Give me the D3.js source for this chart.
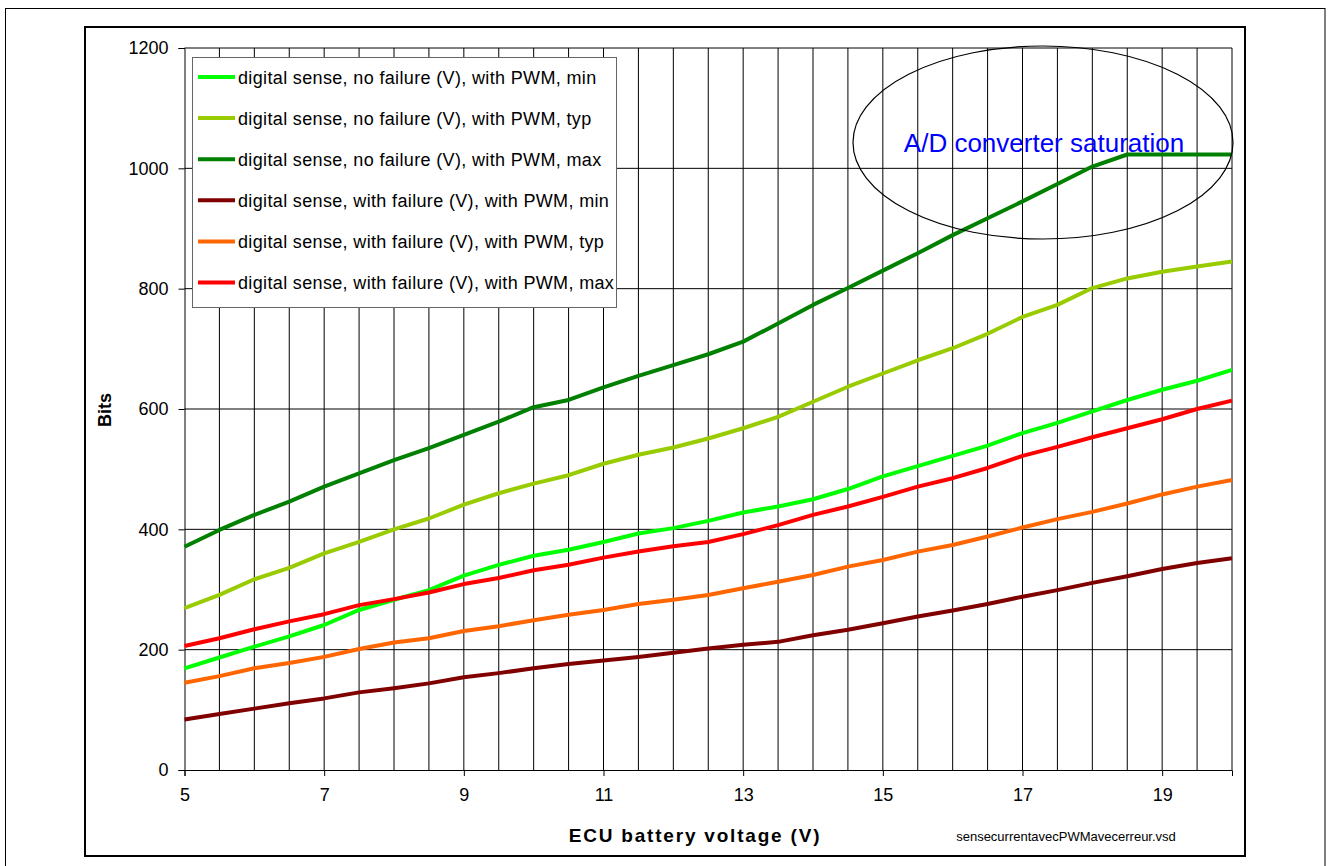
<!DOCTYPE html>
<html>
<head>
<meta charset="utf-8">
<script src="https://cdn.jsdelivr.net/npm/d3@7"></script>
<style>
  body { margin: 0; background: #fff; }
  svg { display: block; font-family: "Liberation Sans", Arial, sans-serif; }
</style>
</head>
<body>
<script>
// ECU battery voltage (V), one reading every 0.5 V
const volts = [5, 5.5, 6, 6.5, 7, 7.5, 8, 8.5, 9, 9.5, 10, 10.5, 11, 11.5, 12, 12.5,
               13, 13.5, 14, 14.5, 15, 15.5, 16, 16.5, 17, 17.5, 18, 18.5, 19, 19.5, 20];

// digital sense in bits
const noFailMin = [169, 187, 205, 222, 241, 266, 283, 299, 323, 341, 356, 366, 379, 393, 402, 414,
                   428, 438, 450, 467, 488, 505, 522, 539, 560, 577, 596, 615, 632, 647, 665];
const noFailTyp = [269, 291, 317, 336, 360, 379, 400, 418, 441, 460, 476, 490, 509, 524, 536, 551,
                   568, 587, 612, 637, 659, 681, 701, 725, 753, 773, 801, 817, 828, 837, 845];
const noFailMax = [371, 399, 424, 446, 471, 493, 515, 535, 557, 579, 603, 615, 636, 655, 673, 691,
                   712, 742, 773, 801, 830, 859, 889, 917, 945, 974, 1003, 1023, 1023, 1023, 1023];
const failMin   = [84, 93, 102, 111, 119, 129, 136, 144, 154, 161, 169, 176, 182, 188, 195, 202,
                   208, 213, 224, 233, 244, 255, 265, 276, 288, 299, 311, 322, 334, 344, 352];
const failTyp   = [145, 156, 169, 178, 188, 201, 212, 219, 231, 239, 249, 258, 266, 276, 283, 291,
                   302, 313, 324, 338, 349, 363, 374, 388, 403, 417, 429, 443, 458, 471, 482];
const failMax   = [206, 219, 234, 247, 259, 274, 284, 295, 309, 319, 332, 341, 353, 363, 372, 379,
                   392, 407, 424, 438, 454, 471, 485, 502, 522, 537, 553, 568, 583, 600, 614];

const seriesNames = [
    "digital sense, no failure (V), with PWM, min",
    "digital sense, no failure (V), with PWM, typ",
    "digital sense, no failure (V), with PWM, max",
    "digital sense, with failure (V), with PWM, min",
    "digital sense, with failure (V), with PWM, typ",
    "digital sense, with failure (V), with PWM, max"
];
const seriesColors = ["#00ff00", "#99cc00", "#008000", "#800000", "#ff6600", "#ff0000"];
const seriesValues = [noFailMin, noFailTyp, noFailMax, failMin, failTyp, failMax];

const xTicks = [5, 7, 9, 11, 13, 15, 17, 19];
const yTicks = [0, 200, 400, 600, 800, 1000, 1200];

const width = 1329;
const height = 866;

let svg = d3.select("body").append("svg")
    .attr("width", width)
    .attr("height", height);

// outer page frame + chart frame
svg.append("rect")
    .attr("x", 5.5).attr("y", 8.5)
    .attr("width", 1319.5).attr("height", 880)
    .attr("fill", "none").attr("stroke", "#000");
svg.append("rect")
    .attr("x", 85).attr("y", 27)
    .attr("width", 1160).attr("height", 829)
    .attr("fill", "none").attr("stroke", "#000").attr("stroke-width", 2);

let xScale = d3.scaleLinear().domain([5, 20]).range([184.5, 1232]);
let yScale = d3.scaleLinear().domain([0, 1200]).range([770, 48]);

// grid: vertical every 0.5 V, horizontal on y ticks
const gridV = d3.range(5.5, 20.01, 0.5);
svg.append("g").selectAll("line")
    .data(gridV)
    .enter().append("line")
    .attr("x1", d => xScale(d)).attr("x2", d => xScale(d))
    .attr("y1", yScale(1200)).attr("y2", yScale(0))
    .attr("stroke", d => d === 20 ? "#808080" : "#000")
    .attr("stroke-width", d => d === 20 ? 2 : 1);
svg.append("g").selectAll("line")
    .data(yTicks.slice(1))
    .enter().append("line")
    .attr("x1", xScale(5)).attr("x2", xScale(20))
    .attr("y1", d => yScale(d)).attr("y2", d => yScale(d))
    .attr("stroke", "#000");

// axes
let yAxis = d3.axisLeft(yScale).tickValues(yTicks).tickSize(6).tickPadding(10).tickFormat(d3.format("d"));
let xAxis = d3.axisBottom(xScale).tickValues(xTicks).tickSize(6).tickPadding(12).tickFormat(d3.format("d"));

svg.append("g")
    .attr("transform", "translate(" + xScale(5) + ",0)")
    .call(yAxis)
    .call(g => g.selectAll("text").style("font-size", "18px").attr("fill", "#000").style("font-family", "Liberation Sans, Arial, sans-serif"));
svg.append("g")
    .attr("transform", "translate(0," + yScale(0) + ")")
    .call(xAxis)
    .call(g => g.selectAll("text").style("font-size", "18px").attr("fill", "#000").style("font-family", "Liberation Sans, Arial, sans-serif"));
svg.selectAll(".domain").attr("stroke", "#000");
svg.selectAll(".tick line").attr("stroke", "#000");

// axis titles
svg.append("text")
    .attr("text-anchor", "middle")
    .attr("transform", "translate(111,410)rotate(-90)")
    .style("font-size", "18px").style("font-weight", "bold")
    .text("Bits");
svg.append("text")
    .attr("text-anchor", "middle")
    .attr("x", 695).attr("y", 842)
    .style("font-size", "19px").style("font-weight", "bold")
    .style("letter-spacing", "1.8px")
    .text("ECU battery voltage (V)");
svg.append("text")
    .attr("text-anchor", "middle")
    .attr("x", 1066).attr("y", 841)
    .style("font-size", "13px")
    .text("sensecurrentavecPWMavecerreur.vsd");

// series
let line = d3.line()
    .x((d, i) => xScale(volts[i]))
    .y(d => yScale(d));

svg.append("g").selectAll("path")
    .data(seriesValues)
    .enter().append("path")
    .attr("d", d => line(d))
    .attr("fill", "none")
    .attr("stroke", (d, i) => seriesColors[i])
    .attr("stroke-width", 4)
    .attr("stroke-linejoin", "round");

// legend
let legend = svg.append("g");
legend.append("rect")
    .attr("x", 192.5).attr("y", 57.5)
    .attr("width", 424).attr("height", 250)
    .attr("fill", "#fff").attr("stroke", "#666");
let items = legend.selectAll("g.item")
    .data(seriesNames)
    .enter().append("g")
    .attr("transform", (d, i) => "translate(0," + (77 + i * 41.1) + ")");
items.append("line")
    .attr("x1", 198).attr("x2", 235)
    .attr("stroke", (d, i) => seriesColors[i])
    .attr("stroke-width", 4);
items.append("text")
    .attr("x", 238).attr("y", 6.5)
    .style("font-size", "18px")
    .style("letter-spacing", "0.35px")
    .text(d => d);

// saturation callout
svg.append("ellipse")
    .attr("cx", 1043).attr("cy", 142.5)
    .attr("rx", 190).attr("ry", 96.5)
    .attr("fill", "none").attr("stroke", "#000").attr("stroke-width", 1.2);
svg.append("text")
    .attr("text-anchor", "middle")
    .attr("x", 1044).attr("y", 151.5)
    .style("font-size", "26px")
    .attr("fill", "#0000ff")
    .text("A/D converter saturation");
</script>
</body>
</html>
